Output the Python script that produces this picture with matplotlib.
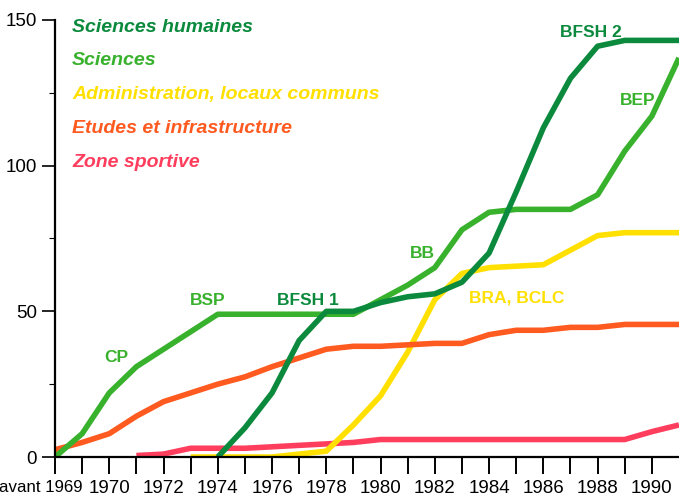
import numpy as np
import matplotlib
matplotlib.use('Agg')
from matplotlib import pyplot as plt
from matplotlib.ticker import MultipleLocator

plt.rcParams['font.family'] = ['Liberation Sans Narrow', 'Liberation Sans', 'DejaVu Sans']

nan = np.nan
# positions 0..23 : avant, 1969, 1970, ..., 1991
periodes = ['avant', '1969'] + [str(a) for a in range(1970, 1992)]
sciences_humaines = [nan, nan, nan, nan, nan, nan, 0, 10, 22, 40, 50, 50,
                     53, 55, 56, 60, 70, 91, 113, 130, 141, 143, 143, 143]
sciences = [0, 8, 22, 31, 37, 43, 49, 49, 49, 49, 49, 49,
            54, 59, 65, 78, 84, 85, 85, 85, 90, 105, 117, 137]
administration = [nan, nan, nan, nan, nan, 0, 0, 0, 0, 1, 2, 11,
                  21, 36, 54, 63, 65, 65.5, 66, 71, 76, 77, 77, 77]
etudes = [2.5, 5, 8, 14, 19, 22, 25, 27.5, 31, 34, 37, 38,
          38, 38.5, 39, 39, 42, 43.5, 43.5, 44.5, 44.5, 45.5, 45.5, 45.5]
zone_sportive = [nan, nan, nan, 0.5, 1, 3, 3, 3, 3.5, 4, 4.5, 5,
                 6, 6, 6, 6, 6, 6, 6, 6, 6, 6, 8.7, 11]

noms = ['Sciences humaines', 'Sciences', 'Administration, locaux communs',
        'Etudes et infrastructure', 'Zone sportive']
couleurs = ['#0b8a3d', '#38b12c', '#ffe000', '#ff5a1f', '#ff3e5e']

# labels of buildings : (text, x, y, series index)
batiments = [('CP', 2.25, 32.6, 1), ('BSP', 5.63, 52.2, 1),
             ('BFSH 1', 9.32, 52.2, 0), ('BB', 13.54, 68.3, 1),
             ('BRA, BCLC', 17.0, 52.9, 2), ('BFSH 2', 19.74, 144.2, 0),
             ('BEP', 21.46, 120.8, 1)]

x = np.arange(len(periodes))

fig = plt.figure(figsize=(6.79, 5.0), dpi=100)
ax = fig.add_axes([0.081, 0.086, 0.919, 0.874])

series = [sciences_humaines, sciences, administration, etudes, zone_sportive]
zorders = [6, 5, 3, 4, 2]
for s, c, z in zip(series, couleurs, zorders):
    ax.plot(x, s, color=c, lw=4, solid_joinstyle='round',
            solid_capstyle='butt', zorder=z)

ax.set_xlim(0, 23)
ax.set_ylim(0, 150)

for sp in ['top', 'right']:
    ax.spines[sp].set_visible(False)
for sp in ['left', 'bottom']:
    ax.spines[sp].set_linewidth(1.6)
    ax.spines[sp].set_zorder(7)

ax.set_xticks(x[:-1])
lab = []
for i, p in enumerate(periodes[:-1]):
    if i == 1:
        lab.append(periodes[0] + ' ' + p)
    elif i >= 2 and i % 2 == 0:
        lab.append(p)
    else:
        lab.append('')
ax.set_xticklabels(lab, fontsize=13.5)
first = ax.get_xticklabels()[1]
first.set_ha('right')
first.set_fontsize(12.2)
ax.tick_params(axis='x', direction='out', length=12.5, width=1.4, pad=4)

ax.set_yticks([0, 50, 100, 150])
ax.yaxis.set_minor_locator(MultipleLocator(25))
ax.tick_params(axis='y', which='major', direction='out', length=9.5,
               width=1.2, pad=3.5, labelsize=13.5)
ax.tick_params(axis='y', which='minor', direction='out', length=4, width=0.8)

# legend as coloured text
for k, (n, c) in enumerate(zip(noms, couleurs)):
    ax.text(0.63, 146 - 11.6 * k, n, color=c, fontsize=14,
            fontweight='bold', fontstyle='italic', va='baseline', ha='left')

for t, bx, by, k in batiments:
    ax.text(bx, by, t, color=couleurs[k], fontsize=12.5, fontweight='bold',
            ha='center', va='baseline')

fig.savefig('out.png', dpi=100, facecolor='white')
